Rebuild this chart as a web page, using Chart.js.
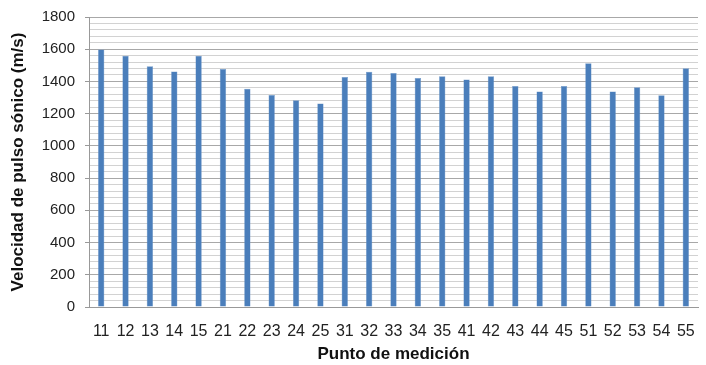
<!DOCTYPE html>
<html lang="es">
<head>
    <meta charset="UTF-8">
    <title>Velocidad de pulso sónico</title>
    <script src="https://cdn.jsdelivr.net/npm/chart.js"></script>
    <style>
        * { margin: 0; padding: 0; box-sizing: border-box; }
        body { background: #fff; width: 706px; height: 365px; overflow: hidden; }
        #wrap { position: relative; width: 706px; height: 365px; }
    </style>
</head>
<body>
    <div id="wrap"><canvas id="chart"></canvas></div>
    <script>
        const puntos = ['11','12','13','14','15','21','22','23','24','25','31','32','33','34','35','41','42','43','44','45','51','52','53','54','55'];
        const velocidades = [1598, 1560, 1495, 1462, 1560, 1478, 1355, 1316, 1283, 1263, 1428, 1460, 1453, 1422, 1432, 1412, 1432, 1372, 1338, 1372, 1513, 1338, 1364, 1315, 1482];
        const yMax = 1800;
        const pasoMenor = 40;
        const pasoMayor = 200;

        const fuente = "'Liberation Sans', Arial, sans-serif";

        new Chart(document.getElementById('chart'), {
            type: 'bar',
            data: {
                labels: puntos,
                datasets: [{
                    data: velocidades,
                    backgroundColor: '#4a7ebb',
                    borderColor: '#6f98c8',
                    borderWidth: 0.5,
                    categoryPercentage: 1,
                    barPercentage: 0.26
                }]
            },
            options: {
                responsive: true,
                maintainAspectRatio: false,
                animation: false,
                layout: { padding: { left: 8, right: 8, top: 17, bottom: 0 } },
                plugins: {
                    legend: { display: false },
                    tooltip: { enabled: false }
                },
                scales: {
                    x: {
                        grid: { display: false },
                        border: { display: true, color: '#999' },
                        ticks: {
                            color: '#222',
                            font: { family: fuente, size: 16 },
                            maxRotation: 0,
                            autoSkip: false,
                            padding: 7
                        },
                        title: {
                            display: true,
                            text: 'Punto de medición',
                            color: '#111',
                            font: { family: fuente, size: 17, weight: 'bold' },
                            padding: { top: 9, bottom: 0 }
                        },
                        afterFit: s => { s.height = 58; }
                    },
                    y: {
                        min: 0,
                        max: yMax,
                        border: { display: true, color: '#999' },
                        grid: {
                            color: c => (c.tick && c.tick.value % pasoMayor === 0) ? '#a8a8a8' : '#d2d2d2',
                            tickLength: 4,
                            tickColor: c => (c.tick && c.tick.value % pasoMayor === 0) ? '#999' : 'rgba(0,0,0,0)'
                        },
                        ticks: {
                            stepSize: pasoMenor,
                            maxTicksLimit: 100,
                            autoSkip: false,
                            color: '#222',
                            font: { family: fuente, size: 15 },
                            padding: 10,
                            callback: v => (v % pasoMayor === 0 ? v : '')
                        },
                        title: {
                            display: true,
                            text: 'Velocidad de pulso sónico (m/s)',
                            color: '#111',
                            font: { family: fuente, size: 17, weight: 'bold' },
                            padding: { top: 0, bottom: 4 }
                        },
                        afterFit: s => { s.width = 81; s.paddingTop = 0; s.paddingBottom = 0; }
                    }
                }
            }
        });
    </script>
</body>
</html>
